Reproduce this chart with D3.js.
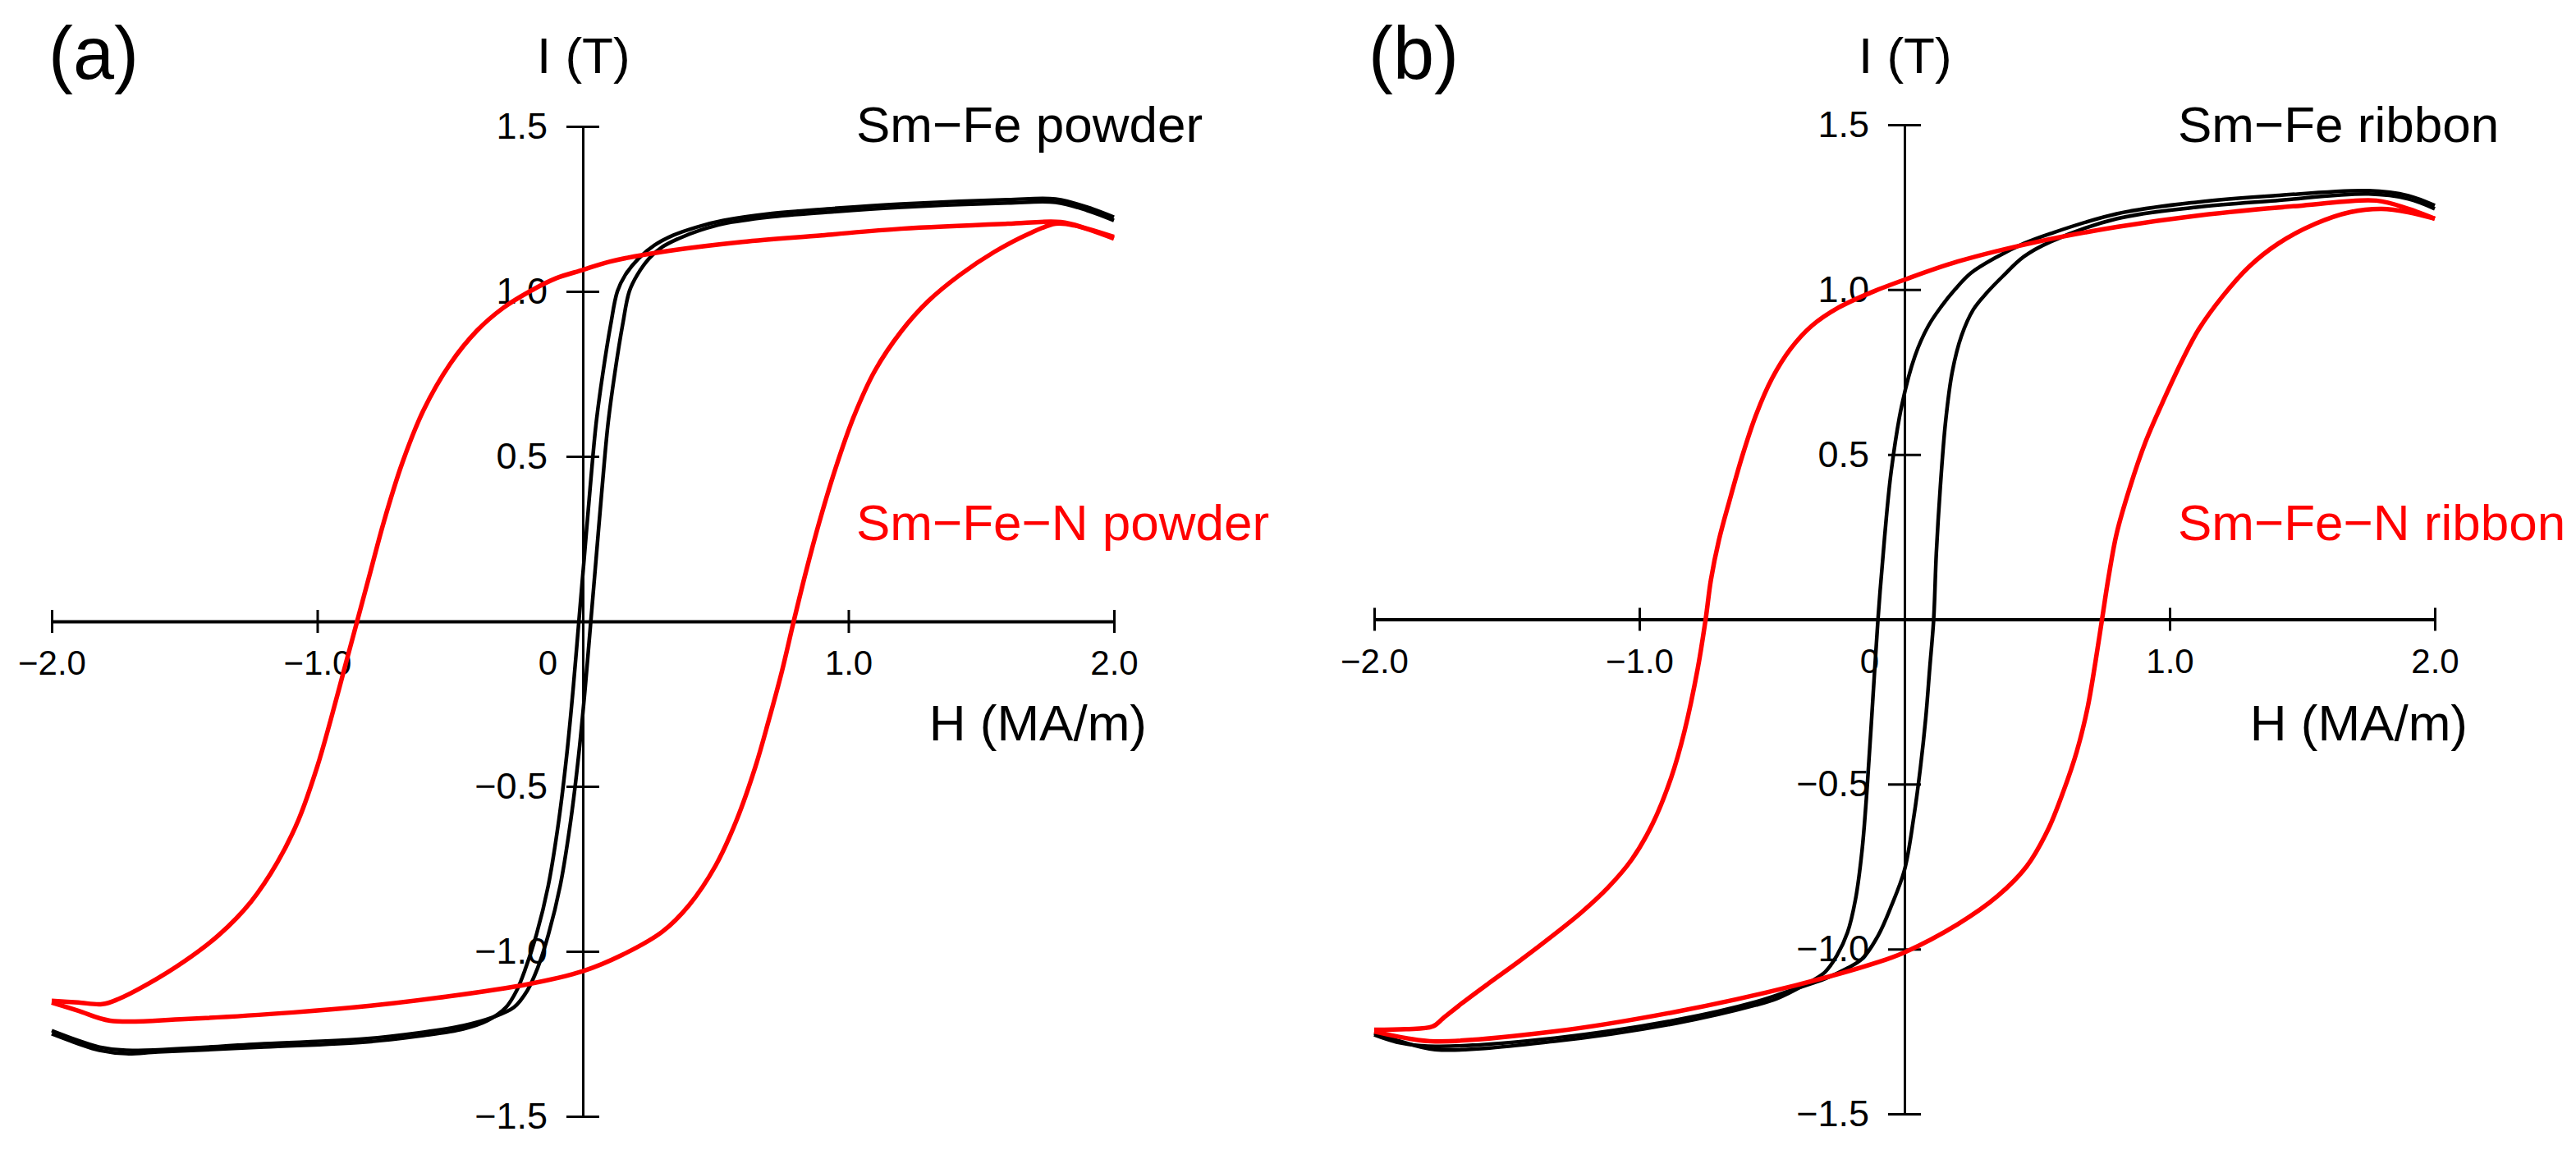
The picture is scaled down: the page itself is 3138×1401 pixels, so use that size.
<!DOCTYPE html>
<html>
<head>
<meta charset="utf-8">
<script src="https://cdn.jsdelivr.net/npm/d3@7"></script>
<style>
  html, body { margin: 0; padding: 0; background: #fff; }
  svg { display: block; }
  text { font-family: "Liberation Sans", Arial, sans-serif; }
</style>
</head>
<body>
<svg id="chart" width="3138" height="1401"></svg>
<script>
// ---------------- data ----------------
const hTicks = [-2, -1, 0, 1, 2];
const hTickLabels = ["\u22122.0", "\u22121.0", "0", "1.0", "2.0"];
const iTicks = [-1.5, -1, -0.5, 0.5, 1, 1.5];
const iTickLabels = ["\u22121.5", "\u22121.0", "\u22120.5", "0.5", "1.0", "1.5"];

const panelTags = ["(a)", "(b)"];
const blackLabels = ["Sm\u2212Fe powder", "Sm\u2212Fe ribbon"];
const redLabels = ["Sm\u2212Fe\u2212N powder", "Sm\u2212Fe\u2212N ribbon"];
const xAxisTitle = "H (MA/m)";
const yAxisTitle = "I (T)";

// Panel (a) Sm-Fe powder  [H (MA/m), I (T)]
const powderFeDown = [[2.0,1.225],[1.9,1.255],[1.78,1.28],[1.6,1.278],[1.2,1.265],[0.92,1.25],[0.7,1.235],[0.53,1.215],[0.43,1.195],[0.34,1.17],[0.27,1.14],[0.21,1.1],[0.16,1.05],[0.13,1.0],[0.105,0.9],[0.075,0.75],[0.05,0.6],[0.027,0.4],[0.006,0.2],[-0.015,0.0],[-0.036,-0.2],[-0.06,-0.4],[-0.09,-0.6],[-0.13,-0.8],[-0.175,-0.95],[-0.215,-1.05],[-0.25,-1.12],[-0.29,-1.17],[-0.36,-1.21],[-0.45,-1.235],[-0.6,-1.255],[-0.82,-1.275],[-1.2,-1.29],[-1.6,-1.305],[-1.72,-1.31],[-1.82,-1.3],[-1.9,-1.28],[-2.0,-1.25]];
const powderFeUp = [[-2.0,-1.24],[-1.9,-1.27],[-1.82,-1.29],[-1.72,-1.3],[-1.2,-1.28],[-0.82,-1.265],[-0.6,-1.245],[-0.45,-1.225],[-0.34,-1.2],[-0.26,-1.17],[-0.21,-1.12],[-0.17,-1.05],[-0.13,-0.95],[-0.085,-0.8],[-0.045,-0.6],[-0.015,-0.4],[0.009,-0.2],[0.03,0.0],[0.051,0.2],[0.072,0.4],[0.095,0.6],[0.12,0.75],[0.15,0.9],[0.175,1.0],[0.205,1.05],[0.25,1.1],[0.3,1.135],[0.36,1.16],[0.44,1.185],[0.53,1.205],[0.7,1.225],[0.92,1.24],[1.2,1.255],[1.6,1.268],[1.78,1.27],[1.9,1.245],[2.0,1.215]];
// Panel (a) Sm-Fe-N powder
const powderFeNDown = [[2.0,1.165],[1.9,1.19],[1.8,1.21],[1.6,1.205],[1.2,1.19],[0.9,1.17],[0.6,1.15],[0.3,1.12],[0.1,1.09],[0.0,1.065],[-0.1,1.04],[-0.2,1.0],[-0.3,0.95],[-0.4,0.88],[-0.5,0.78],[-0.6,0.64],[-0.68,0.48],[-0.75,0.3],[-0.8,0.15],[-0.85,0.0],[-0.9,-0.15],[-0.95,-0.3],[-1.0,-0.44],[-1.07,-0.6],[-1.15,-0.73],[-1.25,-0.85],[-1.37,-0.95],[-1.5,-1.03],[-1.64,-1.1],[-1.75,-1.145],[-1.81,-1.16],[-1.9,-1.155],[-2.0,-1.15]];
const powderFeNUp = [[-2.0,-1.155],[-1.9,-1.18],[-1.78,-1.21],[-1.5,-1.205],[-1.09,-1.185],[-0.8,-1.165],[-0.54,-1.14],[-0.21,-1.1],[0.0,-1.06],[0.15,-1.01],[0.3,-0.94],[0.4,-0.86],[0.5,-0.74],[0.58,-0.6],[0.65,-0.44],[0.7,-0.3],[0.75,-0.15],[0.794,0.0],[0.84,0.15],[0.89,0.3],[0.95,0.46],[1.02,0.62],[1.1,0.76],[1.2,0.88],[1.3,0.97],[1.42,1.05],[1.55,1.12],[1.68,1.175],[1.78,1.205],[1.85,1.2],[2.0,1.16]];

// Panel (b) Sm-Fe ribbon
const ribbonFeDown = [[2.0,1.255],[1.9,1.285],[1.75,1.3],[1.4,1.285],[1.1,1.265],[0.8,1.23],[0.55,1.17],[0.45,1.14],[0.35,1.1],[0.25,1.05],[0.19,1.0],[0.14,0.95],[0.09,0.89],[0.04,0.8],[-0.01,0.65],[-0.05,0.45],[-0.075,0.25],[-0.1,0.0],[-0.12,-0.25],[-0.14,-0.5],[-0.16,-0.7],[-0.185,-0.85],[-0.215,-0.95],[-0.255,-1.02],[-0.3,-1.07],[-0.38,-1.11],[-0.48,-1.15],[-0.56,-1.17],[-0.86,-1.225],[-1.32,-1.28],[-1.77,-1.305],[-1.9,-1.28],[-2.0,-1.255]];
const ribbonFeUp = [[-2.0,-1.26],[-1.9,-1.285],[-1.77,-1.295],[-1.32,-1.27],[-0.86,-1.215],[-0.56,-1.16],[-0.41,-1.12],[-0.3,-1.09],[-0.22,-1.06],[-0.16,-1.03],[-0.1,-0.96],[-0.05,-0.87],[0.0,-0.76],[0.035,-0.6],[0.06,-0.45],[0.08,-0.3],[0.095,-0.15],[0.11,0.0],[0.12,0.2],[0.135,0.4],[0.155,0.6],[0.18,0.75],[0.215,0.86],[0.26,0.94],[0.31,0.99],[0.37,1.04],[0.45,1.1],[0.55,1.145],[0.8,1.215],[1.1,1.25],[1.4,1.27],[1.75,1.29],[1.9,1.275],[2.0,1.245]];
// Panel (b) Sm-Fe-N ribbon
const ribbonFeNDown = [[2.0,1.215],[1.9,1.245],[1.78,1.27],[1.5,1.255],[1.11,1.225],[0.8,1.19],[0.5,1.145],[0.2,1.085],[0.0,1.03],[-0.13,0.99],[-0.25,0.945],[-0.35,0.89],[-0.43,0.82],[-0.5,0.73],[-0.56,0.62],[-0.61,0.5],[-0.66,0.36],[-0.7,0.24],[-0.73,0.12],[-0.75,0.0],[-0.78,-0.15],[-0.83,-0.34],[-0.88,-0.48],[-0.95,-0.62],[-1.03,-0.73],[-1.12,-0.815],[-1.22,-0.89],[-1.32,-0.955],[-1.45,-1.035],[-1.57,-1.105],[-1.67,-1.165],[-1.74,-1.21],[-1.78,-1.235],[-1.88,-1.243],[-2.0,-1.245]];
const ribbonFeNUp = [[-2.0,-1.25],[-1.88,-1.27],[-1.77,-1.28],[-1.32,-1.25],[-0.86,-1.19],[-0.41,-1.11],[-0.1,-1.04],[0.0,-1.01],[0.2,-0.925],[0.35,-0.84],[0.46,-0.75],[0.54,-0.64],[0.6,-0.52],[0.65,-0.4],[0.69,-0.27],[0.72,-0.13],[0.745,0.0],[0.77,0.13],[0.8,0.26],[0.85,0.4],[0.91,0.54],[0.98,0.67],[1.05,0.79],[1.11,0.88],[1.2,0.98],[1.3,1.07],[1.41,1.14],[1.55,1.2],[1.68,1.235],[1.8,1.245],[1.9,1.235],[2.0,1.215]];

// ---------------- drawing ----------------
const svg = d3.select("#chart");
svg.append("rect").attr("width", 3138).attr("height", 1401).attr("fill", "#fff");

const panels = [
  { xr: [63, 1357], yr: [1360, 154], black: [powderFeDown, powderFeUp], red: [powderFeNDown, powderFeNUp], tagX: 114 },
  { xr: [1674, 2966], yr: [1357, 152], black: [ribbonFeDown, ribbonFeUp], red: [ribbonFeNDown, ribbonFeNUp], tagX: 1722 }
];

panels.forEach((p, pi) => {
  const x = d3.scaleLinear().domain([-2, 2]).range(p.xr);
  const y = d3.scaleLinear().domain([-1.5, 1.5]).range(p.yr);
  const g = svg.append("g");

  // x axis
  const xAxis = d3.axisBottom(x).tickValues(hTicks)
    .tickFormat((d, i) => hTickLabels[i]).tickSize(14).tickSizeOuter(0);
  const gx = g.append("g").attr("transform", `translate(0,${y(0)})`).call(xAxis);
  gx.select(".domain").attr("stroke", "#000").attr("stroke-width", 4);
  gx.selectAll(".tick line").attr("y1", -14).attr("y2", 14).attr("stroke-width", 3)
    .attr("display", d => d === 0 ? "none" : null);
  gx.selectAll(".tick text").attr("y", 65).attr("dy", null)
    .attr("font-size", 42).attr("fill", "#000")
    .attr("x", d => d === 0 ? -43 : 0);

  // y axis
  const yAxis = d3.axisLeft(y).tickValues(iTicks)
    .tickFormat((d, i) => iTickLabels[i]).tickSize(20).tickSizeOuter(0);
  const gy = g.append("g").attr("transform", `translate(${x(0)},0)`).call(yAxis);
  gy.select(".domain").attr("stroke", "#000").attr("stroke-width", 3);
  gy.selectAll(".tick line").attr("x1", -20).attr("x2", 20).attr("stroke-width", 3);
  gy.selectAll(".tick text").attr("x", -43).attr("font-size", 45).attr("fill", "#000");

  // curves
  const line = d3.line().x(d => x(d[0])).y(d => y(d[1])).curve(d3.curveCatmullRom.alpha(0.5));
  p.black.forEach(br => g.append("path").attr("d", line(br)).attr("fill", "none")
    .attr("stroke", "#000").attr("stroke-width", 4.5).attr("stroke-linejoin", "round"));
  p.red.forEach(br => g.append("path").attr("d", line(br)).attr("fill", "none")
    .attr("stroke", "#ff0000").attr("stroke-width", 5.5).attr("stroke-linejoin", "round"));

  // texts
  g.append("text").attr("x", p.tagX).attr("y", 96).attr("text-anchor", "middle")
    .attr("font-size", 90).attr("fill", "#000").text(panelTags[pi]);
  g.append("text").attr("x", x(0) - 56).attr("y", 89)
    .attr("font-size", 62).attr("fill", "#000").text(yAxisTitle);
  g.append("text").attr("x", x(2) + 40).attr("y", 902).attr("text-anchor", "end")
    .attr("font-size", 62).attr("fill", "#000").text(xAxisTitle);
  g.append("text").attr("x", x(0) + 333).attr("y", 173)
    .attr("font-size", 62).attr("fill", "#000").text(blackLabels[pi]);
  g.append("text").attr("x", x(0) + 333).attr("y", 658)
    .attr("font-size", 62).attr("fill", "#ff0000").text(redLabels[pi]);
});
</script>
</body>
</html>
